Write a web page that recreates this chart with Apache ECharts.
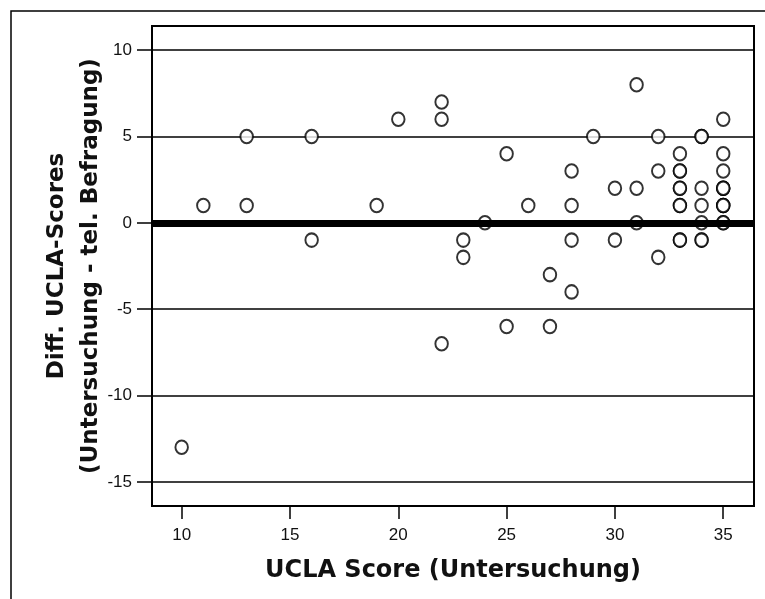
<!DOCTYPE html>
<html>
<head>
<meta charset="utf-8">
<script src="https://cdn.jsdelivr.net/npm/echarts@6/dist/echarts.min.js"></script>
<style>
  html, body { margin: 0; padding: 0; background: #fff; }
  #chart { width: 765px; height: 599px; }
</style>
</head>
<body>
<div id="chart"></div>
<script>
// UCLA score at examination vs. difference to telephone interview
const uclaScore = [10, 11, 13, 13, 16, 16, 19, 20, 22, 22, 22, 23, 23, 24, 25, 25, 26, 27, 27,
    28, 28, 28, 28, 29, 30, 30, 31, 31, 31, 32, 32, 32, 33, 33, 33, 33, 33,
    34, 34, 34, 34, 34, 35, 35, 35, 35, 35, 35,
    // repeated cases (drawn over each other)
    33, 33, 33, 33, 34, 34, 35, 35, 35, 35, 35];
const uclaDiff = [-13, 1, 5, 1, 5, -1, 1, 6, 7, 6, -7, -1, -2, 0, 4, -6, 1, -3, -6,
    3, 1, -1, -4, 5, 2, -1, 8, 2, 0, 5, 3, -2, 4, 3, 2, 1, -1,
    5, 2, 1, 0, -1, 6, 4, 3, 2, 1, 0,
    3, 2, 1, -1, 5, -1, 2, 1, 0, 2, 1];
const xTicks = [10, 15, 20, 25, 30, 35];
const yTicks = [-15, -10, -5, 0, 5, 10];
const refLine = 0;

const points = uclaScore.map((x, i) => [x, uclaDiff[i]]);

const chart = echarts.init(document.getElementById('chart'), null, { renderer: 'canvas' });

const labelFont = {
    color: '#111',
    fontFamily: 'Liberation Sans',
    fontSize: 17
};
const nameFont = {
    color: '#111',
    fontFamily: 'DejaVu Sans',
    fontWeight: 'bold'
};

const option = {
    backgroundColor: '#fff',
    animation: false,
    graphic: [{
        type: 'rect',
        shape: { x: 11, y: 11, width: 800, height: 700 },
        style: { fill: null, stroke: '#000', lineWidth: 1.5 },
        z: 0
    }],
    grid: {
        left: 152, top: 26, right: 11, bottom: 93,
        show: true,
        borderColor: '#000',
        borderWidth: 2,
        backgroundColor: '#fff'
    },
    xAxis: {
        type: 'value',
        min: 8.63,
        max: 36.42,
        name: 'UCLA Score (Untersuchung)',
        nameLocation: 'middle',
        nameGap: 53,
        nameMoveOverlap: false,
        nameTextStyle: Object.assign({ fontSize: 24 }, nameFont),
        axisLine: { show: true, onZero: false, lineStyle: { color: '#000', width: 2 } },
        axisTick: { show: true, length: 13, customValues: xTicks, lineStyle: { color: '#000', width: 1.5 } },
        axisLabel: Object.assign({ margin: 21, customValues: xTicks }, labelFont),
        splitLine: { show: false }
    },
    yAxis: {
        type: 'value',
        min: -16.4,
        max: 11.4,
        name: 'Diff. UCLA-Scores\n(Untersuchung - tel. Befragung)',
        nameLocation: 'middle',
        nameGap: 44,
        nameMoveOverlap: false,
        nameTextStyle: Object.assign({ fontSize: 23, lineHeight: 34 }, nameFont),
        axisLine: { show: true, onZero: false, lineStyle: { color: '#000', width: 2 } },
        axisTick: { show: true, length: 15, customValues: yTicks, lineStyle: { color: '#000', width: 1.5 } },
        axisLabel: Object.assign({ margin: 20, customValues: yTicks }, labelFont),
        splitLine: { show: true, lineStyle: { color: '#000', width: 1.5 } }
    },
    series: [{
        type: 'scatter',
        data: points,
        symbol: 'circle',
        symbolSize: [12.5, 13.5],
        itemStyle: { color: '#fff', borderColor: '#000', borderWidth: 2 },
        z: 3,
        markLine: {
            silent: true,
            symbol: 'none',
            label: { show: false },
            lineStyle: { color: '#000', width: 7, type: 'solid' },
            data: [{ yAxis: refLine }],
            z: 5
        }
    }]
};

chart.setOption(option);
</script>
</body>
</html>
